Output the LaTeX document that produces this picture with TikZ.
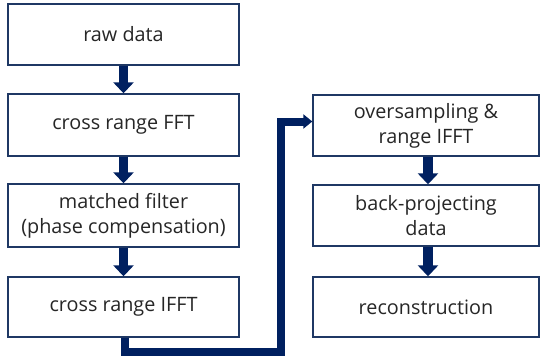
\documentclass[tikz,border=0pt]{standalone}
\usepackage{fontspec}
\setmainfont{Open Sans}
\usetikzlibrary{arrows.meta}
\definecolor{navy}{HTML}{002060}
\definecolor{boxline}{HTML}{1F3864}
\begin{document}
\begin{tikzpicture}[x=1pt,y=1pt,
  stepbox/.style={draw=boxline,line width=1.4pt,fill=white,align=center,
    minimum width=#1,inner sep=0pt,font=\fontsize{19.8}{25}\selectfont,text=black!85},
  flow/.style={navy,line width=9.5pt,-{Triangle[width=20pt,length=11pt]}},
  elbow/.style={navy,line width=8pt,line join=miter,-{Triangle[width=14pt,length=9pt]}}]
\useasboundingbox (0,0) rectangle (540,360);
% left column
\node[stepbox=231pt,minimum height=61pt] (b1) at (123.5,325.5) {raw data};
\node[stepbox=231pt,minimum height=62pt] (b2) at (123.5,235) {cross range FFT};
\node[stepbox=231pt,minimum height=63pt] (b3) at (123.5,144.5) {matched filter\\(phase compensation)};
\node[stepbox=231pt,minimum height=60pt] (b4) at (123.5,53) {cross range IFFT};
% right column
\node[stepbox=226pt,minimum height=61pt] (r1) at (426,234.5) {oversampling \&\\range IFFT};
\node[stepbox=226pt,minimum height=61pt] (r2) at (426,144.5) {back-projecting\\data};
\node[stepbox=226pt,minimum height=60pt] (r3) at (426,53) {reconstruction};
% arrows
\draw[flow] (b1.south) -- (b2.north);
\draw[flow] (b2.south) -- (b3.north);
\draw[flow] (b3.south) -- (b4.north);
\draw[flow] ([xshift=2pt]r1.south) -- ([xshift=2pt]r2.north);
\draw[flow] ([xshift=2pt]r2.south) -- ([xshift=2pt]r3.north);
\coordinate (k) at (281,238.5);
\draw[elbow] ([xshift=1pt]b4.south) -- ++(0,-14) -| (k) -- (k -| r1.west);
\end{tikzpicture}
\end{document}
